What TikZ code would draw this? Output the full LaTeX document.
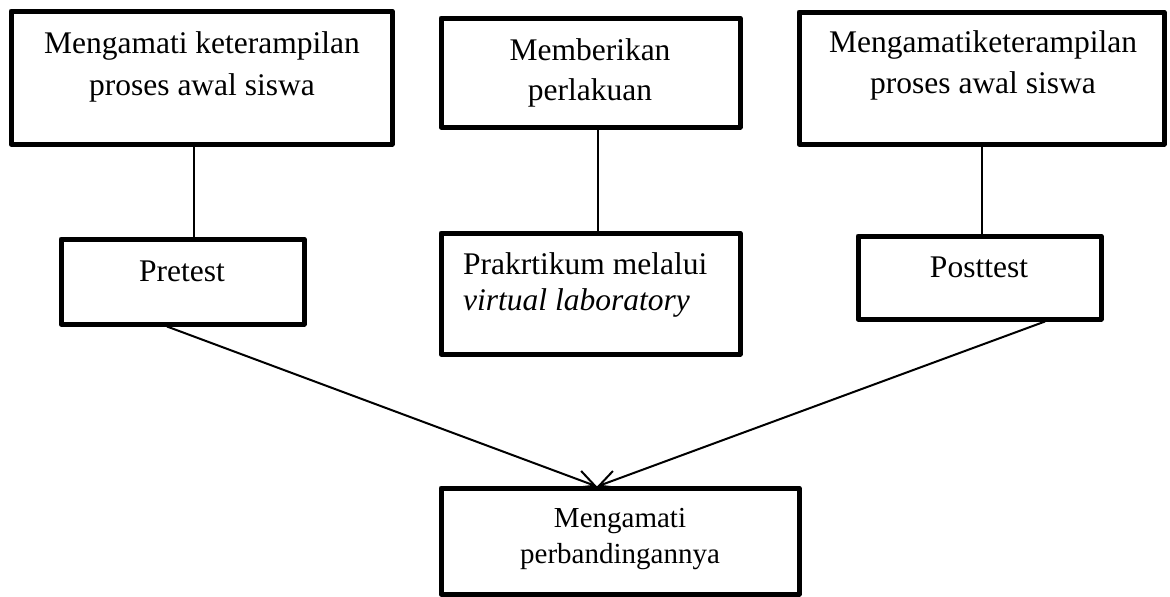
\documentclass[tikz,border=0pt]{standalone}
\usepackage{fontspec}
\setmainfont{Liberation Serif}
\usetikzlibrary{arrows.meta}
\begin{document}
\begin{tikzpicture}[x=1pt,y=-1pt,
  box/.style={draw,line width=5pt,line join=round,inner sep=0pt,fill=white},
  txt/.style={inner sep=0pt,anchor=base,font=\fontsize{31.5}{40}\selectfont},
  txtsmall/.style={inner sep=0pt,anchor=base,font=\fontsize{29}{36}\selectfont},
  conn/.style={draw,line width=2pt},
  arr/.style={conn,-{Straight Barb[length=18pt,width=18pt,line width=2pt]}}]
\useasboundingbox (0,0) rectangle (1170,597);
% boxes
\node[box,minimum width=381pt,minimum height=133pt] (b1) at (201.5,77.5) {};
\node[box,minimum width=299pt,minimum height=109pt] (b2) at (590.5,72.5) {};
\node[box,minimum width=365pt,minimum height=132pt] (b3) at (981.5,78) {};
\node[box,minimum width=243pt,minimum height=85pt] (pre) at (182.5,281.5) {};
\node[box,minimum width=299pt,minimum height=121pt] (prak) at (590.5,293.5) {};
\node[box,minimum width=243pt,minimum height=83pt] (post) at (979.5,277.5) {};
% texts
\node[txt] (b1a) at (202,53) {Mengamati keterampilan};
\node[txt] (b1b) at (202,95) {proses awal siswa};
\node[txt] (b2a) at (590,60) {Memberikan};
\node[txt] (b2b) at (590,100) {perlakuan};
\node[txt] (b3a) at (983,52) {Mengamatiketerampilan};
\node[txt] (b3b) at (983,93) {proses awal siswa};
\node[txt] (prea) at (182,281) {Pretest};
\node[txt,anchor=base west] (praka) at (463,274) {Prakrtikum melalui};
\node[txt,anchor=base west] (prakb) at (463,310) {\textit{virtual laboratory}};
\node[txt] (posta) at (979,277) {Posttest};
% vertical connectors
\draw[conn] ([xshift=-7.5pt]b1.south) -- ([xshift=11.5pt]pre.north);
\draw[conn] ([xshift=7.5pt]b2.south) -- ([xshift=7.5pt]prak.north);
\draw[conn] ([xshift=0.5pt]b3.south) -- ([xshift=2.5pt]post.north);
% bottom box
\node[box,minimum width=358pt,minimum height=106pt] (bot) at (620,541) {};
\node[txtsmall] (bota) at (620,527) {Mengamati};
\node[txtsmall] (botb) at (620,563) {perbandingannya};
\coordinate (tip) at ([xshift=-23pt,yshift=-1pt]bot.north);
\draw[arr] ([xshift=-15.5pt]pre.south) -- (tip);
\draw[arr] ([xshift=65.5pt]post.south) -- (tip);
\end{tikzpicture}
\end{document}
